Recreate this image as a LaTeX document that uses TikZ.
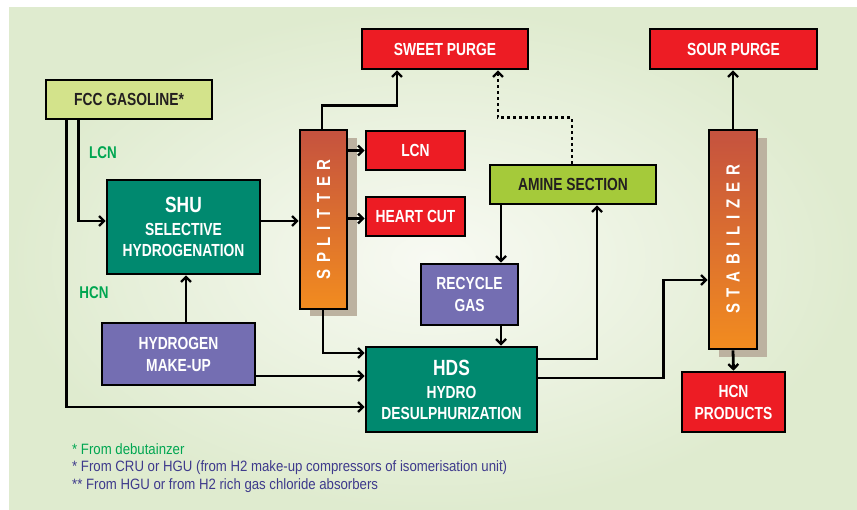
\documentclass[tikz,border=0pt]{standalone}
\usepackage{fontspec}
\setmainfont{Liberation Sans}
\newfontfamily\cond[FakeStretch=0.79]{Liberation Sans}
\newfontfamily\condn[FakeStretch=0.88]{Liberation Sans}
\usetikzlibrary{arrows.meta,calc}
\definecolor{bgout}{HTML}{DFEBCF}
\definecolor{bgin}{HTML}{F8FAF3}
\definecolor{fccfill}{HTML}{D3E38B}
\definecolor{tealc}{HTML}{00896F}
\definecolor{purplec}{HTML}{746EB2}
\definecolor{redc}{HTML}{ED1C24}
\definecolor{aminec}{HTML}{A5CA3A}
\definecolor{orangetop}{HTML}{C5523F}
\definecolor{orangebot}{HTML}{F28C1F}
\definecolor{shadowc}{HTML}{BCB2A0}
\definecolor{lblgreen}{HTML}{00A651}
\definecolor{notepurple}{HTML}{3E3A8C}
\definecolor{darktext}{HTML}{231F20}
\begin{document}
\begin{tikzpicture}[x=1pt,y=-1pt,
  box/.style={draw=black, line width=2.6pt, inner sep=0pt, align=center,
    font=\cond\bfseries\fontsize{17.5}{22}\selectfont},
  redbox/.style={box, fill=redc, text=white},
  tealbox/.style={box, fill=tealc, text=white},
  purplebox/.style={box, fill=purplec, text=white},
  column/.style={box, top color=orangetop, bottom color=orangebot, text=white,
    font=\cond\bfseries\fontsize{19}{19}\selectfont},
  arr/.style={line width=2.8pt, -{Straight Barb[length=5pt,width=10pt,line width=2.4pt]}},
  dotarr/.style={arr, dash pattern=on 3pt off 3pt},
  flowlbl/.style={text=lblgreen, font=\cond\bfseries\fontsize{17}{17}\selectfont},
  note/.style={anchor=west, inner sep=0pt, font=\condn\fontsize{15}{15}\selectfont}
]
\useasboundingbox (0,0) rectangle (857,510);
\shade[inner color=bgin, outer color=bgout] (9,8) rectangle (857,510);

% shadows
\fill[shadowc] (310,138) rectangle (357,316);
\fill[shadowc] (719,138) rectangle (767,357);

% nodes
\node[box, fill=fccfill, text=darktext, minimum width=166pt, minimum height=39pt] (fcc) at (129,99.5) {FCC GASOLINE*};
\node[redbox, minimum width=166pt, minimum height=40pt] (sweet) at (445,49) {SWEET PURGE};
\node[redbox, minimum width=167pt, minimum height=40pt] (sour) at (733.5,49) {SOUR PURGE};
\node[column, minimum width=47pt, minimum height=179pt] (splitter) at (323.5,219.5)
  {\rotatebox{90}{\addfontfeature{LetterSpace=36}SPLITTER}};
\node[redbox, minimum width=99pt, minimum height=39pt] (lcn) at (415.5,150.5) {LCN};
\node[redbox, minimum width=99pt, minimum height=39pt] (heart) at (415.5,216.5) {HEART CUT};
\node[tealbox, minimum width=153pt, minimum height=94pt] (shu) at (183.5,227)
  {{\fontsize{22}{22}\selectfont SHU}\\[1pt]SELECTIVE\\[-1pt]HYDROGENATION};
\node[box, fill=aminec, text=darktext, minimum width=166pt, minimum height=39pt] (amine) at (573,184.5) {AMINE SECTION};
\node[column, minimum width=48pt, minimum height=219pt] (stab) at (733,239.5)
  {\rotatebox{90}{\addfontfeature{LetterSpace=36}STABILIZER}};
\node[purplebox, minimum width=97pt, minimum height=61pt] (recycle) at (469.5,294.5) {RECYCLE\\GAS};
\node[tealbox, minimum width=171pt, minimum height=85pt] (hds) at (451.5,389.5)
  {{\fontsize{22}{22}\selectfont HDS}\\[1pt]HYDRO\\[-1pt]DESULPHURIZATION};
\node[purplebox, minimum width=153pt, minimum height=62pt] (h2) at (178.5,354) {HYDROGEN\\MAKE-UP};
\node[redbox, minimum width=103pt, minimum height=60pt] (hcn) at (733.5,402) {HCN\\PRODUCTS};

% flow labels
\node[flowlbl] (lcnlbl) at (103,153) {LCN};
\node[flowlbl] (hcnlbl) at (94,293) {HCN};

% connectors
\draw[arr] ([xshift=34pt]fcc.south west) |- ([yshift=6pt]shu.west);
\draw[arr] ([xshift=22pt]fcc.south west) |- ([yshift=-17.5pt]hds.west);
\coordinate (s1) at ([yshift=6pt]shu.east);
\draw[arr] (s1) -- (s1 -| splitter.west);
\draw[arr] ([xshift=-1.5pt]splitter.north) -- ++(0,-23) -| ([xshift=-48pt]sweet.south);
\draw[arr] (lcn.west -| splitter.east) -- (lcn.west);
\draw[arr] ([yshift=-2pt]heart.west -| splitter.east) -- ([yshift=-2pt]heart.west);
\draw[arr] ([xshift=-0.5pt]splitter.south) |- ([yshift=36.5pt]hds.west);
\coordinate (c1) at ([xshift=2.5pt]shu.south);
\draw[arr] (h2.north -| c1) -- (c1);
\coordinate (c2) at ([yshift=-22pt]h2.east);
\draw[arr] (c2) -- (c2 -| hds.west);
\draw[dotarr] ([xshift=-1pt]amine.north) -- ++(0,-46) -| ([xshift=53pt]sweet.south);
\coordinate (c3) at ([xshift=-72pt]amine.south);
\draw[arr] (c3) -- (c3 |- recycle.north);
\coordinate (c4) at ([xshift=31.5pt]recycle.south);
\draw[arr] (c4) -- (c4 |- hds.north);
\draw[arr] ([yshift=30.5pt]hds.east) -| ([xshift=24pt]amine.south);
\draw[arr] ([yshift=11.5pt]hds.east) -- ++(125,0) |- ([yshift=-40.5pt]stab.west);
\draw[arr] (stab.north) -- (stab.north |- sour.south);
\draw[arr] (stab.south) -- (hcn.north);

% notes
\node[note, text=lblgreen] (n1) at (72,449) {* From debutainzer};
\node[note, text=notepurple] (n2) at (72,468) {* From CRU or HGU (from H2 make-up compressors of isomerisation unit)};
\node[note, text=notepurple] (n3) at (72,486) {** From HGU or from H2 rich gas chloride absorbers};
\end{tikzpicture}
\end{document}
